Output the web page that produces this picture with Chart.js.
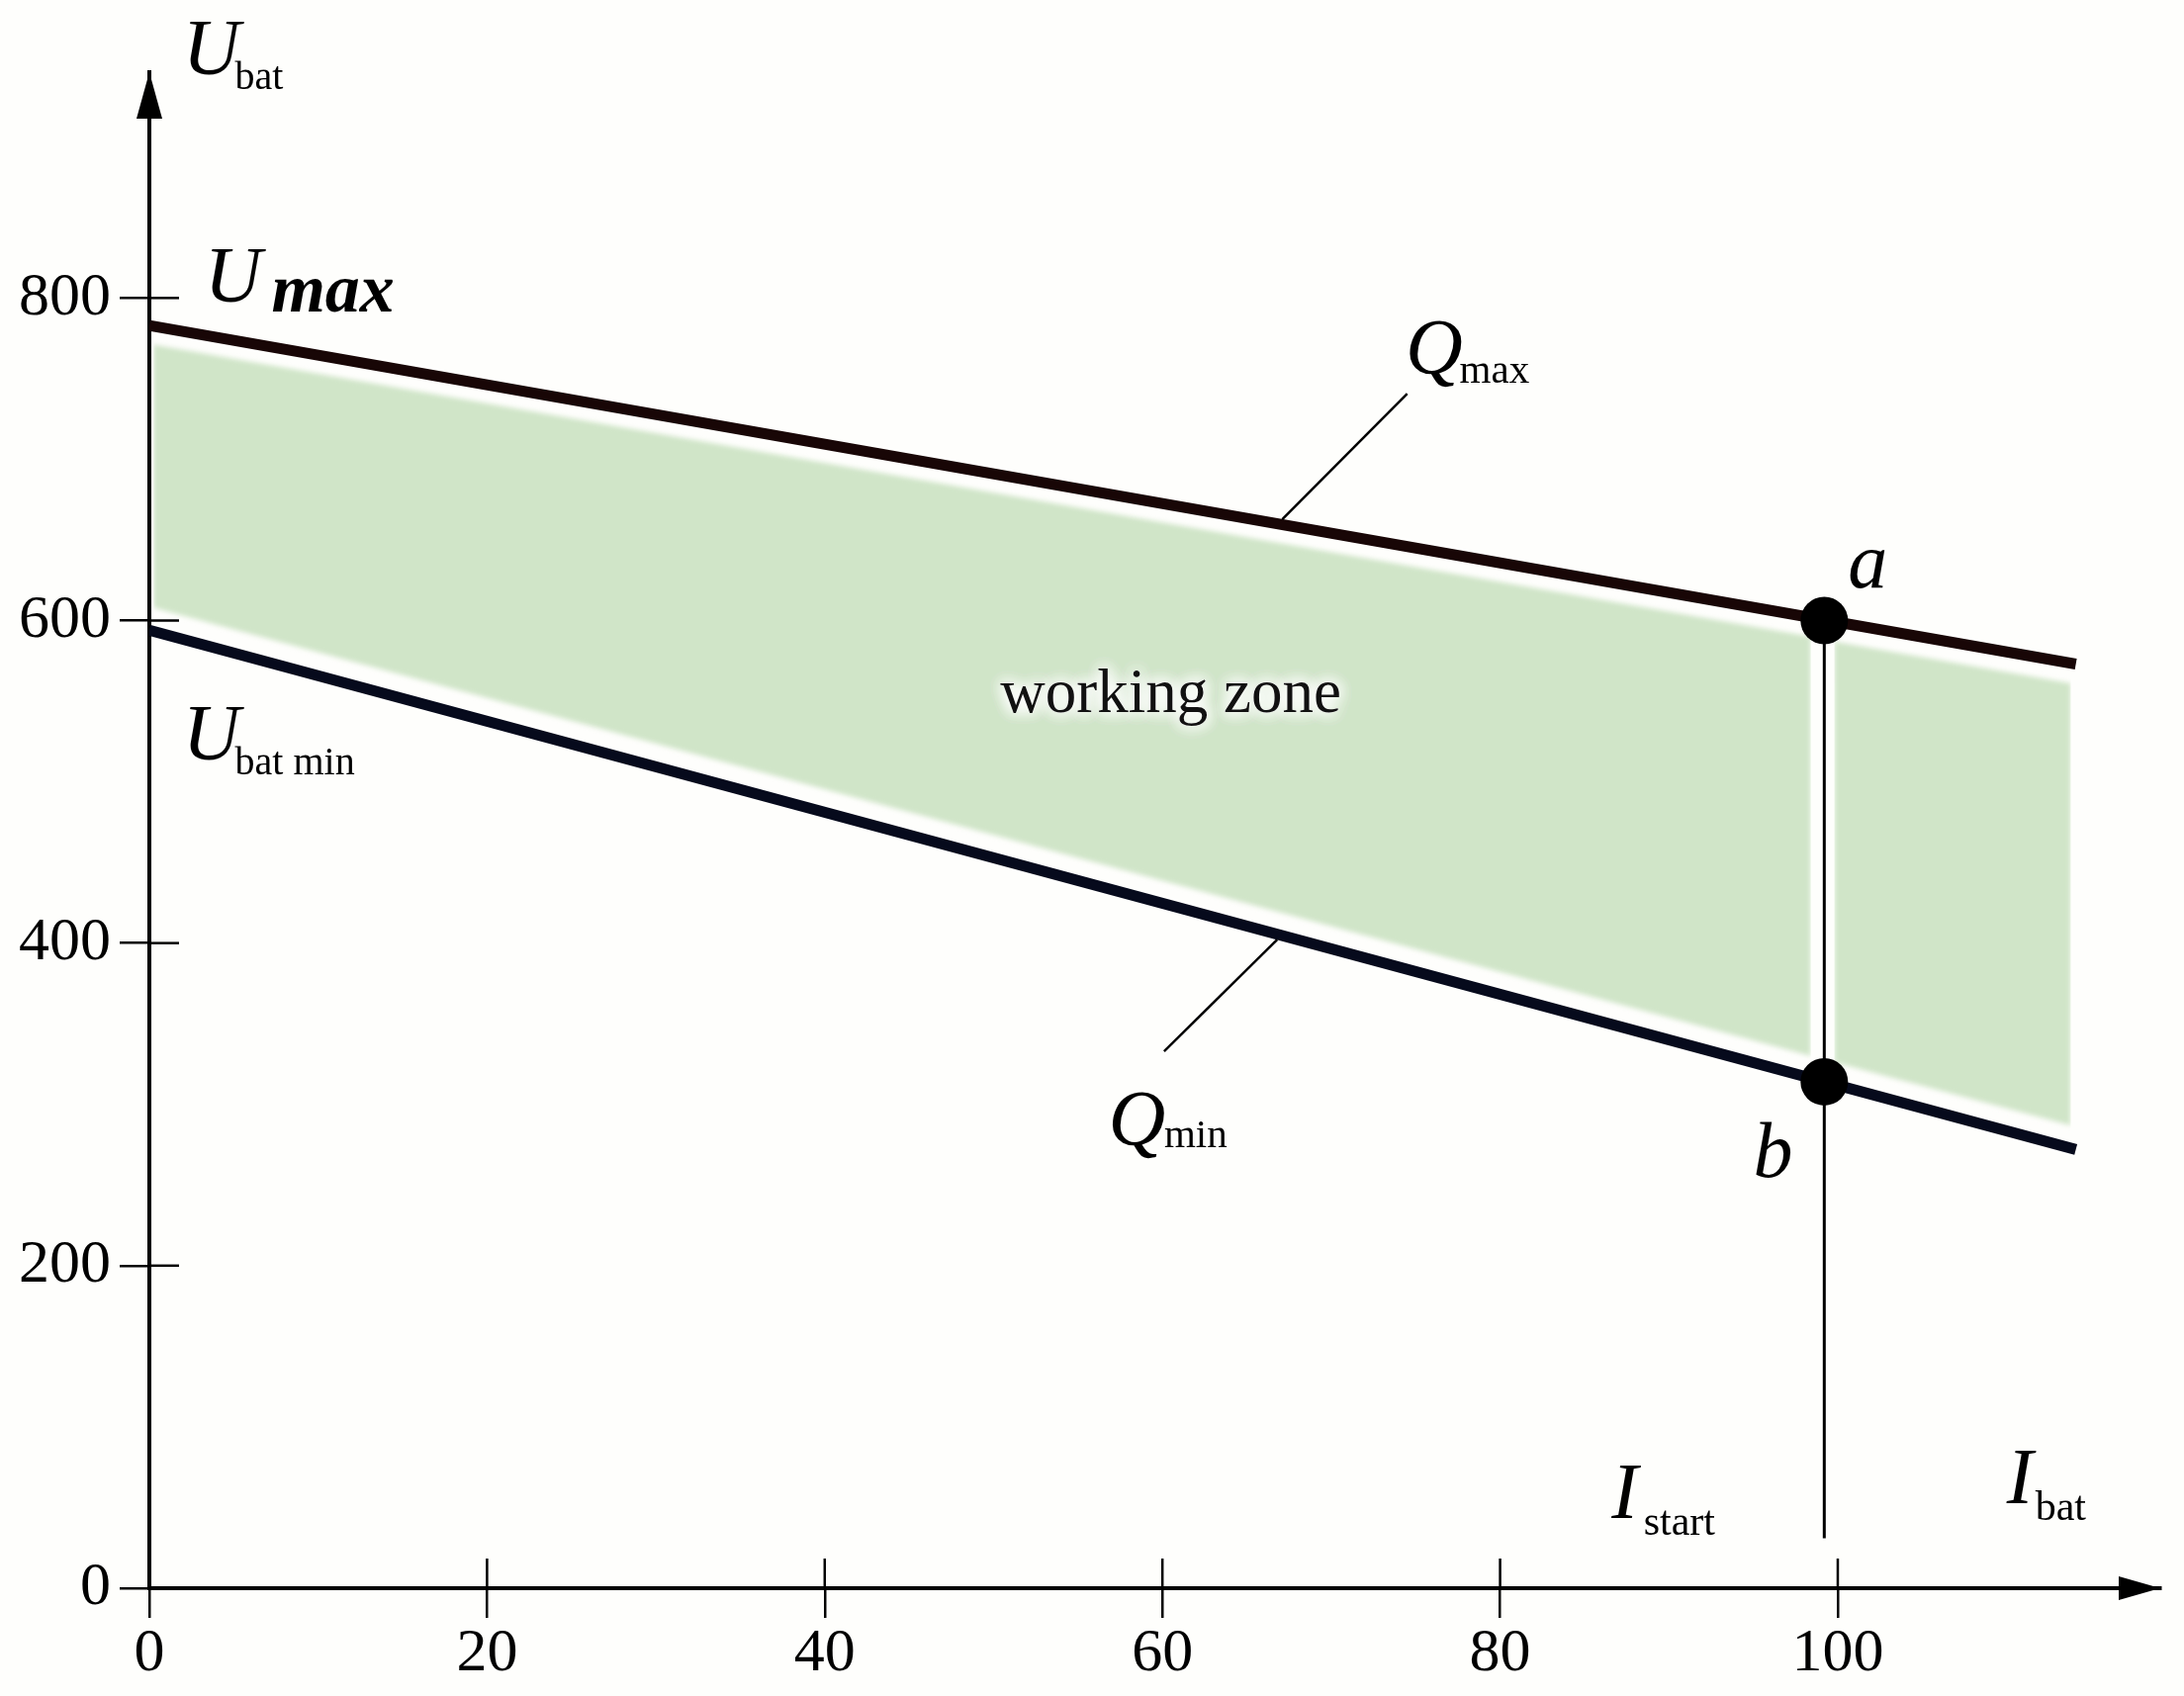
<!DOCTYPE html>
<html>
<head>
<meta charset="utf-8">
<script src="https://cdn.jsdelivr.net/npm/chart.js@4.4.1/dist/chart.umd.min.js"></script>
<style>
  html, body { margin: 0; padding: 0; background: #fefefc; overflow: hidden; }
  #chart { display: block; }
</style>
</head>
<body>
<canvas id="chart" width="2208" height="1715"></canvas>
<script>
// Battery current I_bat (x) against battery voltage U_bat (y)
const currentEnds = [0, 114.1];
const qMaxVolts = [783, 573];
const qMinVolts = [594, 272];

// working zone, split by the I_start line
const zoneLeftX = [0.25, 98.4];
const zoneLeftTop = [771, 590];
const zoneLeftBottom = [608, 330];
const zoneRightX = [99.8, 113.8];
const zoneRightTop = [587, 561];
const zoneRightBottom = [326, 287];

const startCurrent = 99.2;
const startLineVolts = [600, 31];
const pointVolts = [600, 314]; // a, b

const xTicks = [0, 20, 40, 60, 80, 100];
const yTicks = [0, 200, 400, 600, 800];

const SERIF = "'Liberation Serif', 'Times New Roman', serif";
const ZONE_GREEN = "#d0e5c8";

// text notes, anchored at left/baseline in data units
const notes = [
  { x: 1.98, y: 938.7, text: "U", font: "italic 80px" },
  { x: 5.07, y: 929.5, text: "bat", font: "40px" },
  { x: 3.27, y: 797.7, text: "U", font: "italic 80px" },
  { x: 7.23, y: 791.5, text: "max", font: "italic bold 70px" },
  { x: 1.98, y: 513.8, text: "U", font: "italic 80px" },
  { x: 5.07, y: 504.6, text: "bat min", font: "40px" },
  { x: 74.4, y: 752.9, text: "Q", font: "italic 80px" },
  { x: 77.6, y: 747.4, text: "max", font: "41px" },
  { x: 56.8, y: 274.7, text: "Q", font: "italic 80px" },
  { x: 60.1, y: 273.5, text: "min", font: "41px" },
  { x: 100.6, y: 620.5, text: "a", font: "italic 80px" },
  { x: 95.0, y: 255.1, text: "b", font: "italic 80px" },
  { x: 86.6, y: 43.5, text: "I", font: "italic 80px" },
  { x: 88.5, y: 33.1, text: "start", font: "42px" },
  { x: 110.0, y: 52.7, text: "I", font: "italic 80px" },
  { x: 111.7, y: 42.3, text: "bat", font: "42px" }
];

// leader lines from the Q labels to the curves
const leaders = [
  [[74.5, 740.7], [67.1, 662.8]],
  [[60.1, 332.9], [66.8, 402.2]]
];

function pts(xs, ys) {
  return xs.map((x, i) => ({ x: x, y: ys[i] }));
}

const bgPlugin = {
  id: "bg",
  beforeDraw(chart) {
    const ctx = chart.ctx;
    ctx.save();
    ctx.fillStyle = "#fefefc";
    ctx.fillRect(0, 0, chart.width, chart.height);
    ctx.restore();
  }
};

const axesPlugin = {
  id: "axes",
  beforeDatasetsDraw(chart) {
    const { ctx, chartArea, scales } = chart;
    const x0 = chartArea.left, y0 = chartArea.bottom;
    ctx.save();
    ctx.strokeStyle = "#000";
    ctx.fillStyle = "#000";
    ctx.lineWidth = 2.5;
    // inner halves of the cross ticks
    xTicks.forEach(v => {
      const px = scales.x.getPixelForValue(v);
      ctx.beginPath(); ctx.moveTo(px, y0); ctx.lineTo(px, y0 - 30); ctx.stroke();
    });
    yTicks.forEach(v => {
      const py = scales.y.getPixelForValue(v);
      ctx.beginPath(); ctx.moveTo(x0, py); ctx.lineTo(x0 + 30, py); ctx.stroke();
    });
    // arrow heads
    ctx.beginPath();
    ctx.moveTo(x0, chartArea.top);
    ctx.lineTo(x0 - 13, chartArea.top + 47);
    ctx.lineTo(x0 + 13, chartArea.top + 47);
    ctx.closePath(); ctx.fill();
    ctx.beginPath();
    ctx.moveTo(chartArea.right, y0);
    ctx.lineTo(chartArea.right - 42, y0 - 12);
    ctx.lineTo(chartArea.right - 42, y0 + 12);
    ctx.closePath(); ctx.fill();
    ctx.restore();
    // soft edges for the zone fill, reset after the last fill dataset
    ctx.filter = "blur(2.5px)";
  },
  afterDatasetDraw(chart, args) {
    if (args.index === 0) chart.ctx.filter = "none";
  }
};

const notesPlugin = {
  id: "notes",
  afterDatasetsDraw(chart) {
    const { ctx, scales } = chart;
    ctx.save();
    ctx.filter = "none";
    ctx.textBaseline = "alphabetic";
    ctx.textAlign = "left";

    // leader lines
    ctx.strokeStyle = "#000";
    ctx.lineWidth = 2.5;
    leaders.forEach(seg => {
      ctx.beginPath();
      ctx.moveTo(scales.x.getPixelForValue(seg[0][0]), scales.y.getPixelForValue(seg[0][1]));
      ctx.lineTo(scales.x.getPixelForValue(seg[1][0]), scales.y.getPixelForValue(seg[1][1]));
      ctx.stroke();
    });

    ctx.fillStyle = "#000";
    notes.forEach(n => {
      ctx.font = n.font + " " + SERIF;
      ctx.fillText(n.text, scales.x.getPixelForValue(n.x), scales.y.getPixelForValue(n.y));
    });

    // "working zone" with a soft white glow
    const wx = scales.x.getPixelForValue(50.4);
    const wy = scales.y.getPixelForValue(543.2);
    ctx.font = "63px " + SERIF;
    ctx.shadowColor = "#ffffff";
    ctx.shadowBlur = 16;
    ctx.fillStyle = "#ffffff";
    for (let i = 0; i < 4; i++) ctx.fillText("working zone", wx, wy);
    ctx.shadowBlur = 0;
    ctx.fillStyle = "#111";
    ctx.fillText("working zone", wx, wy);
    ctx.restore();
  }
};

const hidden = { borderWidth: 0, pointRadius: 0, backgroundColor: ZONE_GREEN, order: 5 };

new Chart(document.getElementById("chart"), {
  type: "line",
  data: {
    datasets: [
      { ...hidden, data: pts(zoneLeftX, zoneLeftTop), fill: false },
      { ...hidden, data: pts(zoneLeftX, zoneLeftBottom), fill: "-1" },
      { ...hidden, data: pts(zoneRightX, zoneRightTop), fill: false },
      { ...hidden, data: pts(zoneRightX, zoneRightBottom), fill: "-1" },
      {
        label: "Q max",
        data: pts(currentEnds, qMaxVolts),
        borderColor: "#180606", borderWidth: 11, pointRadius: 0, fill: false, order: 2
      },
      {
        label: "Q min",
        data: pts(currentEnds, qMinVolts),
        borderColor: "#060a1c", borderWidth: 11, pointRadius: 0, fill: false, order: 2
      },
      {
        label: "I start",
        data: pts([startCurrent, startCurrent], startLineVolts),
        borderColor: "#000", borderWidth: 3, pointRadius: 0, fill: false, order: 3
      },
      {
        label: "a, b",
        data: pts([startCurrent, startCurrent], pointVolts),
        showLine: false, pointRadius: 24, pointBackgroundColor: "#000",
        pointBorderWidth: 0, order: 0
      }
    ]
  },
  options: {
    responsive: false,
    animation: false,
    events: [],
    layout: { padding: { top: 73, right: 14, left: 0, bottom: 0 } },
    plugins: { legend: { display: false }, tooltip: { enabled: false } },
    scales: {
      x: {
        type: "linear",
        min: 0,
        max: 119.1,
        afterBuildTicks: s => { s.ticks = xTicks.map(v => ({ value: v })); },
        afterFit: s => { s.height = 109; },
        grid: { display: true, drawOnChartArea: false, drawTicks: true, tickLength: 30, color: "#000", lineWidth: 2.5 },
        border: { display: true, color: "#000", width: 4 },
        ticks: { color: "#000", font: { family: SERIF, size: 62 }, padding: 0, maxRotation: 0, autoSkip: false }
      },
      y: {
        type: "linear",
        min: 0,
        max: 940,
        afterBuildTicks: s => { s.ticks = yTicks.map(v => ({ value: v })); },
        afterFit: s => { s.width = 151; },
        grid: { display: true, drawOnChartArea: false, drawTicks: true, tickLength: 30, color: "#000", lineWidth: 2.5 },
        border: { display: true, color: "#000", width: 4 },
        ticks: { color: "#000", font: { family: SERIF, size: 62 }, padding: 9, autoSkip: false }
      }
    }
  },
  plugins: [bgPlugin, axesPlugin, notesPlugin]
});
</script>
</body>
</html>
